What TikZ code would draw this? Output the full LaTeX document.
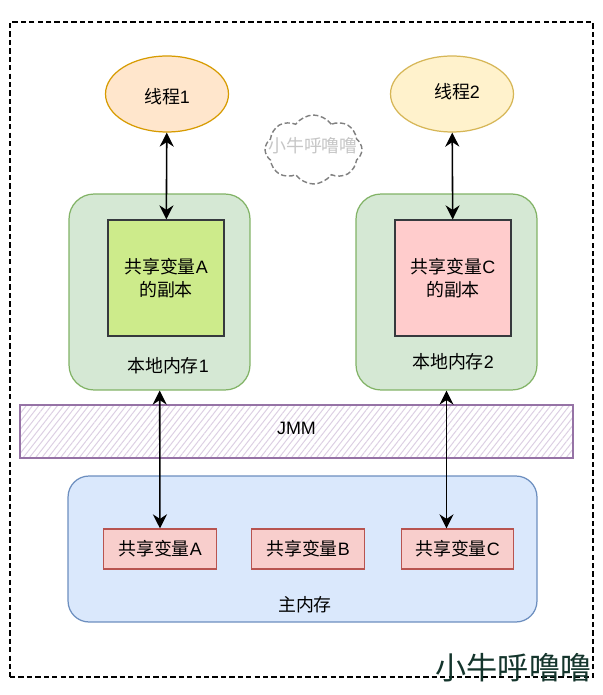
\documentclass[tikz,border=0pt]{standalone}
\usepackage{fontspec}
\setmainfont{Liberation Sans}
\newfontfamily\cjk{Noto Sans CJK SC}
\usetikzlibrary{arrows.meta,patterns.meta,shapes.geometric,shapes.symbols}
\definecolor{threadA}{HTML}{FFE6CC}
\definecolor{threadAline}{HTML}{D79B00}
\definecolor{threadB}{HTML}{FFF2CC}
\definecolor{threadBline}{HTML}{D6B656}
\definecolor{localmem}{HTML}{D5E8D4}
\definecolor{localmemline}{HTML}{82B366}
\definecolor{copyA}{HTML}{CDEB8B}
\definecolor{copyC}{HTML}{FFCCCC}
\definecolor{copyline}{HTML}{36393D}
\definecolor{mainmem}{HTML}{DAE8FC}
\definecolor{mainmemline}{HTML}{6C8EBF}
\definecolor{sharedvar}{HTML}{F8CECC}
\definecolor{sharedline}{HTML}{B85450}
\definecolor{jmmline}{HTML}{9673A6}
\definecolor{jmmhatch}{HTML}{DCCFE3}
\definecolor{logotext}{HTML}{14352C}
\begin{document}
\begin{tikzpicture}[x=0.02cm,y=-0.02cm,font=\fontsize{10.2pt}{13pt}\selectfont]
\tikzset{thread/.style = {shape=ellipse,draw,line width=0.7pt,minimum width=2.46cm,minimum height=1.52cm,inner sep=0pt}}
\tikzset{localbox/.style = {shape=rectangle,rounded corners=0.5cm,draw=localmemline,fill=localmem,line width=0.7pt,minimum width=3.62cm,minimum height=3.92cm}}
\tikzset{copybox/.style = {shape=rectangle,draw=copyline,line width=0.7pt,minimum width=2.32cm,minimum height=2.32cm,align=center}}
\tikzset{varbox/.style = {shape=rectangle,draw=sharedline,fill=sharedvar,line width=0.7pt,minimum width=2.25cm,minimum height=0.8cm,inner sep=0pt}}
\tikzset{edge/.style = {{Stealth[length=8pt,width=8pt]}-{Stealth[length=8pt,width=8pt]},line width=0.9pt}}
\useasboundingbox (0,0) rectangle (602,695);
\fill[white] (0,0) rectangle (602,695);
\node[draw,dash pattern=on 3pt off 1.8pt,line width=1pt,minimum width=11.66cm,minimum height=13.1cm] (frame) at (301.5,349.5) {};
\node[thread,draw=threadAline,fill=threadA] (t1) at (167,94) {};
\node[thread,draw=threadBline,fill=threadB] (t2) at (452,94) {};
\node (t1text) at (167,97) {{\cjk 线程}1};
\node (t2text) at (457,92) {{\cjk 线程}2};
\node[shape=cloud,cloud puffs=8,cloud puff arc=110,aspect=1.4,draw=gray,dash pattern=on 3pt off 1.5pt,line width=0.8pt,minimum width=1.94cm,minimum height=1.38cm,inner sep=0pt] (logocloud) at (313.5,149.5) {};
\node[text=gray!45] (cloudtext) at (313,146) {\cjk 小牛呼噜噜};
\node[localbox] (m1) at (159.5,292) {};
\node[localbox] (m2) at (446.5,292) {};
\node[copybox,fill=copyA] (c1) at (166,278) {{\cjk 共享变量}A\\{\cjk 的副本}};
\node[copybox,fill=copyC] (c2) at (453,278) {{\cjk 共享变量}C\\{\cjk 的副本}};
\node (m1text) at (168,366) {{\cjk 本地内存}1};
\node (m2text) at (453,362) {{\cjk 本地内存}2};
\node[draw=jmmline,line width=0.8pt,minimum width=11.06cm,minimum height=1.06cm,pattern={Lines[angle=52,distance=2.8pt,line width=0.55pt]},pattern color=jmmhatch] (jmm) at (296.5,431.5) {};
\node (jmmtext) at (296.5,428) {JMM};
\node[draw=mainmemline,fill=mainmem,rounded corners=0.42cm,line width=0.7pt,minimum width=9.38cm,minimum height=2.92cm] (main) at (302.5,549) {};
\node[varbox] (v1) at (160,549) {{\cjk 共享变量}A};
\node[varbox] (v2) at (308,549) {{\cjk 共享变量}B};
\node[varbox] (v3) at (457.5,549) {{\cjk 共享变量}C};
\node (maintext) at (305,605) {\cjk 主内存};
\node[text=logotext,font=\fontsize{17.7pt}{20pt}\selectfont] (logo) at (513.5,668) {\cjk 小牛呼噜噜};
\draw[edge] (t1) to (c1);
\draw[edge] (t2) to (c2);
\draw[edge] (m1) to (v1);
\draw[edge] (m2) to (m2 |- v3.north);
\end{tikzpicture}
\end{document}
